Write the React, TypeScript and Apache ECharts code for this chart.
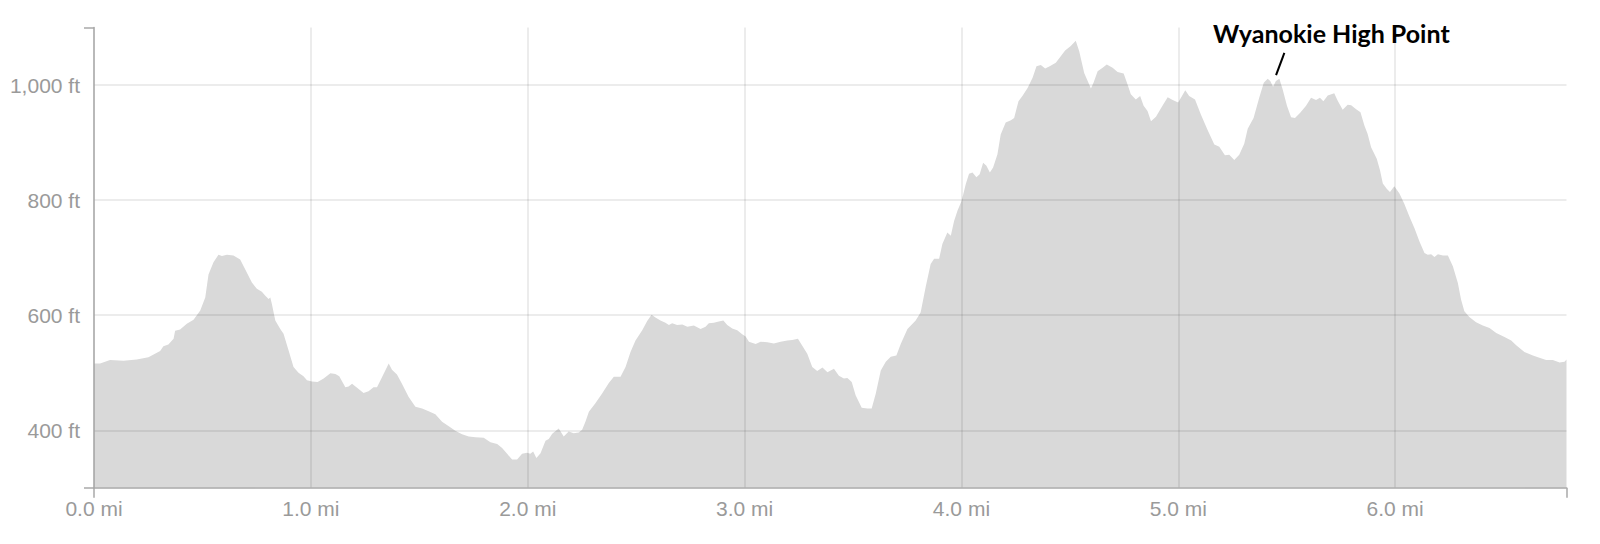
import React, { useEffect, useRef } from 'react';
import * as echarts from 'echarts';

// Distance along the trail (miles) and elevation (feet).
const DISTANCE_MI = [
  0.000, 0.028, 0.074, 0.136, 0.197, 0.251, 0.305, 0.320, 0.343, 0.367, 0.374, 0.397, 0.428, 0.459, 0.490,
  0.513, 0.528, 0.551, 0.574, 0.590, 0.613, 0.643, 0.674, 0.697, 0.728, 0.751, 0.774, 0.790, 0.805, 0.813,
  0.820, 0.836, 0.859, 0.874, 0.897, 0.920, 0.943, 0.966, 0.982, 1.005, 1.031, 1.059, 1.090,
  1.113, 1.131, 1.159, 1.174, 1.190, 1.213, 1.243, 1.266, 1.289, 1.305, 1.328, 1.359, 1.374, 1.397, 1.420,
  1.451, 1.482, 1.513, 1.543, 1.574, 1.605, 1.636, 1.666, 1.697, 1.728, 1.759, 1.797, 1.828, 1.859, 1.882,
  1.905, 1.928, 1.951, 1.974, 1.997, 2.012, 2.025, 2.040, 2.059, 2.082, 2.097, 2.113, 2.143, 2.166, 2.189,
  2.212, 2.235,
  2.251, 2.266, 2.282, 2.312, 2.343, 2.374, 2.397, 2.428, 2.451, 2.474, 2.497, 2.528, 2.551, 2.571, 2.589,
  2.612, 2.635, 2.651, 2.666, 2.689, 2.713, 2.736, 2.766, 2.797, 2.820, 2.835, 2.858, 2.881, 2.902, 2.920,
  2.943, 2.966, 2.989, 3.005, 3.020, 3.051, 3.074, 3.105, 3.135, 3.166, 3.197, 3.220, 3.246, 3.266, 3.289,
  3.312, 3.335, 3.359,
  3.382, 3.412, 3.435, 3.458, 3.474, 3.494, 3.512, 3.540, 3.566, 3.586, 3.605, 3.628, 3.651, 3.674, 3.700,
  3.720, 3.751, 3.789, 3.812, 3.835, 3.858, 3.874, 3.897, 3.912, 3.935, 3.951, 3.966, 3.982, 4.001, 4.020,
  4.035, 4.051, 4.069, 4.084, 4.100, 4.115, 4.131, 4.146, 4.166, 4.181, 4.204, 4.228, 4.243, 4.263, 4.281,
  4.305, 4.328, 4.346, 4.366, 4.386, 4.407, 4.435, 4.458, 4.478, 4.504,
  4.527, 4.543, 4.566, 4.581, 4.597, 4.609, 4.628, 4.651, 4.670, 4.697, 4.720, 4.748, 4.766, 4.781, 4.804,
  4.824, 4.840, 4.858, 4.874, 4.897, 4.920, 4.951, 4.974, 4.999, 5.017, 5.032, 5.050, 5.077, 5.104, 5.135,
  5.166, 5.189, 5.215, 5.235, 5.258, 5.281, 5.304, 5.320, 5.347, 5.373, 5.394, 5.412, 5.424, 5.437, 5.450,
  5.466, 5.481, 5.501, 5.520, 5.538, 5.562, 5.589, 5.612, 5.635,
  5.653, 5.669, 5.689, 5.719, 5.735, 5.758, 5.781, 5.797, 5.820, 5.840, 5.858, 5.873, 5.889, 5.915, 5.930,
  5.943, 5.961, 5.976, 5.996, 6.019, 6.042, 6.066, 6.089, 6.112, 6.135, 6.150, 6.166, 6.181, 6.197, 6.220,
  6.243, 6.266, 6.289, 6.304, 6.319, 6.342, 6.373, 6.404, 6.435, 6.466, 6.504, 6.535, 6.558, 6.596, 6.635,
  6.665, 6.696, 6.727, 6.758, 6.781, 6.790,
];

const ELEVATION_FT = [
  516, 516, 522, 521, 523, 527, 538, 546, 549, 559, 573, 575, 585, 592, 608,
  631, 671, 692, 705, 703, 705, 704, 697, 680, 657, 646, 641, 634, 628, 631,
  620, 591, 576, 568, 539, 510, 500, 494, 487, 485, 484, 490, 499,
  498, 494, 475, 476, 481, 474, 465, 468, 475, 475, 492, 516, 505, 497, 481,
  458, 441, 438, 433, 428, 415, 407, 399, 393, 389, 388, 387, 379, 376, 369,
  359, 349, 349, 359, 361, 359, 363, 352, 360, 382, 385, 394, 403, 389, 398,
  395, 396,
  401, 415, 432, 447, 464, 482, 493, 493, 510, 536, 556, 574, 590, 601, 596,
  591, 587, 583, 586, 583, 584, 580, 582, 576, 580, 586, 587, 589, 591, 583,
  577, 574, 567, 563, 554, 550, 554, 553, 551, 554, 556, 557, 559, 547, 533,
  510, 503, 509,
  501, 507, 495, 490, 491, 484, 461, 439, 438, 438, 464, 504, 519, 528, 530,
  550, 576, 591, 605, 649, 689, 698, 698, 724, 744, 738, 764, 782, 799, 828,
  846, 848, 840, 845, 865, 860, 848, 857, 880, 914, 935, 939, 943, 972, 981,
  995, 1013, 1033, 1035, 1029, 1033, 1039, 1050, 1060, 1068,
  1077, 1059, 1021, 1008, 994, 1004, 1024, 1030, 1036, 1030, 1023, 1020, 1001, 984, 975,
  981, 964, 955, 937, 945, 960, 979, 974, 970, 981, 991, 981, 975, 949, 922,
  897, 893, 878, 879, 870, 879, 898, 924, 943, 978, 1004, 1011, 1007, 997, 1007,
  1011, 993, 964, 944, 943, 952, 964, 978, 974,
  978, 972, 982, 986, 973, 957, 966, 965, 958, 953, 930, 915, 892, 872, 852,
  829, 820, 814, 824, 812, 794, 771, 751, 728, 708, 705, 706, 701, 706, 704,
  704, 685, 656, 627, 607, 597, 588, 582, 578, 569, 562, 556, 548, 536, 530,
  526, 522, 522, 518, 519, 523,
];

const X_TICKS = [0, 1, 2, 3, 4, 5, 6];
const Y_TICKS = [400, 600, 800, 1000];
const X_MIN = 0;
const X_MAX = 6.79;
const Y_MIN = 300;
const Y_MAX = 1100;
const X_OUTER_TICKS = [X_MIN, X_MAX];
const Y_OUTER_TICKS = [Y_MIN, Y_MAX];

const HIGH_POINT_LABEL = 'Wyanokie High Point';
const HIGH_POINT_MI = 5.466;

export default function App() {
  const ref = useRef<HTMLDivElement>(null);

  useEffect(() => {
    if (!ref.current) return;
    const chart = echarts.init(ref.current, null, { renderer: 'svg' });

    const labelStyle = {
      color: '#9a9a9a',
      fontSize: 21,
      fontFamily: '"Liberation Sans", Arial, sans-serif',
    };
    const axisLineStyle = { color: '#a8a8a8', width: 1.5 };
    const gridLine = { show: true, lineStyle: { color: 'rgba(0,0,0,0.075)', width: 2 } };

    chart.setOption({
      animation: false,
      grid: { left: 94, right: 33.5, top: 27.6, bottom: 56.2, containLabel: false, outerBoundsMode: 'none' },
      xAxis: [
        {
          type: 'value',
          min: X_MIN,
          max: X_MAX,
          z: 3,
          axisLine: { show: true, onZero: false, lineStyle: axisLineStyle },
          axisTick: { show: false, customValues: X_TICKS },
          axisLabel: {
            customValues: X_TICKS,
            formatter: (v: number) => v.toFixed(1) + ' mi',
            margin: 10,
            ...labelStyle,
          },
          splitLine: gridLine,
        },
        {
          type: 'value',
          min: X_MIN,
          max: X_MAX,
          position: 'bottom',
          z: 3,
          axisLine: { show: false, onZero: false },
          axisTick: { show: true, customValues: X_OUTER_TICKS, length: 10, lineStyle: axisLineStyle },
          axisLabel: { show: false },
          splitLine: { show: false },
        },
      ],
      yAxis: [
        {
          type: 'value',
          min: Y_MIN,
          max: Y_MAX,
          position: 'left',
          z: 3,
          axisLine: { show: true, onZero: false, lineStyle: axisLineStyle },
          axisTick: { show: false, customValues: Y_TICKS },
          axisLabel: {
            customValues: Y_TICKS,
            formatter: (v: number) => v.toLocaleString('en-US') + ' ft',
            margin: 14,
            ...labelStyle,
          },
          splitLine: gridLine,
        },
        {
          type: 'value',
          min: Y_MIN,
          max: Y_MAX,
          position: 'left',
          z: 3,
          axisLine: { show: false, onZero: false },
          axisTick: { show: true, customValues: Y_OUTER_TICKS, length: 10, lineStyle: axisLineStyle },
          axisLabel: { show: false },
          splitLine: { show: false },
        },
      ],
      series: [
        {
          type: 'line',
          xAxisIndex: 0,
          yAxisIndex: 0,
          data: DISTANCE_MI.map((d, i) => [d, ELEVATION_FT[i]]),
          symbol: 'none',
          showSymbol: false,
          silent: true,
          z: 1,
          lineStyle: { width: 0, opacity: 0 },
          areaStyle: { color: '#d9d9d9', opacity: 1, origin: 'start' },
        },
      ],
    });

    const idx = DISTANCE_MI.indexOf(HIGH_POINT_MI);
    const p = chart.convertToPixel({ seriesIndex: 0 }, [HIGH_POINT_MI, ELEVATION_FT[idx]]) as number[];
    if (p && isFinite(p[0])) {
      const [px, py] = p;
      chart.setOption({
        graphic: [
          {
            type: 'line',
            shape: { x1: px - 3.3, y1: py - 3.7, x2: px + 5, y2: py - 26 },
            style: { stroke: '#000000', lineWidth: 2 },
            z: 10,
          },
          {
            type: 'text',
            x: px + 52,
            y: py - 46,
            z: 10,
            style: {
              text: HIGH_POINT_LABEL,
              fill: '#000000',
              fontSize: 25,
              fontWeight: 'bold',
              fontFamily: 'Lato, "Open Sans", sans-serif',
              align: 'center',
              verticalAlign: 'middle',
            },
          },
        ],
      });
    }

    return () => chart.dispose();
  }, []);

  return (
    <div
      ref={ref}
      style={{ position: 'fixed', left: 0, top: 0, width: 1600, height: 544, background: '#ffffff' }}
    />
  );
}
